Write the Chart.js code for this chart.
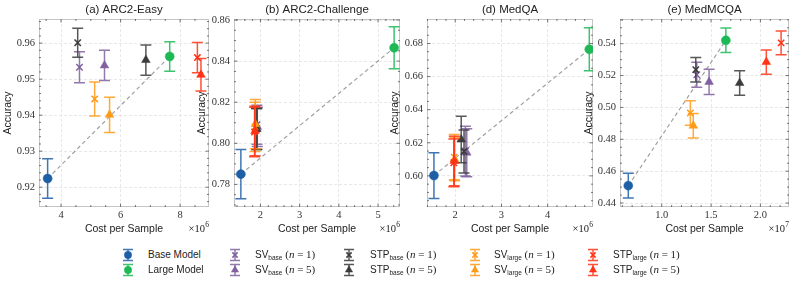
<!DOCTYPE html>
<html>
<head>
<meta charset="utf-8">
<script src="https://cdn.jsdelivr.net/npm/chart.js@4.4.1/dist/chart.umd.min.js"></script>
<style>
  body { margin: 0; background: #fff; width: 793px; height: 286px; overflow: hidden; position: relative; font-family: 'Liberation Sans', Arial, sans-serif; }
  canvas.panel { position: absolute; top: 0; }
  .leg { position: absolute; font-size: 10px; color: #222; white-space: nowrap; line-height: 12px; transform: translateY(-50%); }
  .leg sub { font-size: 6.5px; vertical-align: baseline; position: relative; top: 1.5px; }
  .leg .m { font-family: 'Liberation Serif', serif; font-size: 11px; }
  .legm { position: absolute; }
</style>
</head>
<body>
<script>
// panels
const panelTitles = ['(a) ARC2-Easy', '(b) ARC2-Challenge', '(d) MedQA', '(e) MedMCQA'];
const costExponent = ['6', '6', '6', '7'];

// series order: Base, Large, SV_base n=1, SV_base n=5, STP_base n=1, STP_base n=5,
//               SV_large n=1, SV_large n=5, STP_large n=1, STP_large n=5
const seriesNames = ['Base Model', 'Large Model', 'SV', 'SV', 'STP', 'STP', 'SV', 'SV', 'STP', 'STP'];
const seriesSub   = ['', '', 'base', 'base', 'base', 'base', 'large', 'large', 'large', 'large'];
const seriesN     = [null, null, 1, 5, 1, 5, 1, 5, 1, 5];

// cost per sample (x10^6, x10^7 for MedMCQA), accuracy, error half-width
const arcEasyCost = [3.55, 7.65, 4.62, 5.46, 4.56, 6.85, 5.13, 5.63, 8.58, 8.70];
const arcEasyAcc  = [0.9224, 0.9563, 0.9533, 0.9538, 0.9601, 0.9553, 0.9445, 0.9401, 0.9560, 0.9512];
const arcEasyErr  = [0.0055, 0.0041, 0.0043, 0.0042, 0.0040, 0.0042, 0.0047, 0.0049, 0.0042, 0.0045];

const arcChalCost = [1.50, 5.41, 1.91, 1.92, 1.90, 1.91, 1.86, 1.87, 1.85, 1.86];
const arcChalAcc  = [0.785, 0.8465, 0.809, 0.808, 0.807, 0.807, 0.808, 0.8093, 0.8055, 0.806];
const arcChalErr  = [0.012, 0.0102, 0.0095, 0.0095, 0.010, 0.010, 0.012, 0.012, 0.012, 0.012];

const medqaCost = [1.54, 4.90, 2.22, 2.25, 2.19, 2.13, 1.98, 1.99, 1.97, 1.98];
const medqaAcc  = [0.6002, 0.6765, 0.615, 0.614, 0.6147, 0.622, 0.6113, 0.610, 0.6079, 0.609];
const medqaErr  = [0.0138, 0.013, 0.015, 0.0145, 0.013, 0.014, 0.0137, 0.013, 0.0144, 0.015];

const medmcqaCost = [0.661, 1.65, 1.355, 1.48, 1.345, 1.79, 1.29, 1.32, 2.21, 2.06];
const medmcqaAcc  = [0.4509, 0.5421, 0.5205, 0.516, 0.5237, 0.5153, 0.4965, 0.4885, 0.5405, 0.5285];
const medmcqaErr  = [0.0078, 0.0077, 0.0078, 0.0079, 0.0077, 0.0077, 0.0077, 0.0077, 0.0075, 0.0076];

const panelCost = [arcEasyCost, arcChalCost, medqaCost, medmcqaCost];
const panelAcc  = [arcEasyAcc, arcChalAcc, medqaAcc, medmcqaAcc];
const panelErr  = [arcEasyErr, arcChalErr, medqaErr, medmcqaErr];

// axes
const xTicks = [[4, 6, 8], [2, 3, 4, 5], [2, 3, 4], [1.0, 1.5, 2.0]];
const yTicks = [[0.92, 0.93, 0.94, 0.95, 0.96], [0.78, 0.80, 0.82, 0.84, 0.86], [0.60, 0.62, 0.64, 0.66, 0.68], [0.44, 0.46, 0.48, 0.50, 0.52, 0.54]];
const xDecimals = [0, 0, 0, 1];
const xRanges = [[3.26, 8.97], [1.325, 5.56], [1.39, 4.98], [0.577, 2.29]];
const yRanges = [[0.9145, 0.9667], [0.769, 0.8605], [0.5812, 0.6948], [0.4375, 0.5555]];

// styles
const seriesColors  = ['#1f5fa6', '#1cb955', '#80609e', '#80609e', '#3b3b3b', '#3b3b3b', '#ff9a17', '#ff9a17', '#ff3214', '#ff3214'];
const seriesMarkers = ['circle', 'circle', 'crossRot', 'triangle', 'crossRot', 'triangle', 'crossRot', 'triangle', 'crossRot', 'triangle'];
const markerRadius  = { circle: 4.5, crossRot: 4.5, triangle: 5 };

const panelLeft = [0, 195, 388, 582];
const axisWidth = [39, 39, 39, 38];
const plotRight = [209, 400, 593, 789];
const yTitleX   = [8, 201.7, 395, 589];
const CANVAS_H = 240;

Chart.defaults.font.family = "'Liberation Sans', Arial, sans-serif";
Chart.defaults.color = '#222';

function alpha(hex, a) {
  const n = parseInt(hex.slice(1), 16);
  return `rgba(${n >> 16},${(n >> 8) & 255},${n & 255},${a})`;
}

function minorDivs(step) {
  const m = step / Math.pow(10, Math.floor(Math.log10(step) + 1e-9));
  return (Math.abs(m - 1) < 1e-6 || Math.abs(m - 5) < 1e-6) ? 5 : 4;
}

const errorBars = {
  id: 'errorBars',
  beforeDatasetDraw(chart, args) {
    const ds = chart.data.datasets[args.index];
    if (!ds.errors) return;
    const { ctx, chartArea: a } = chart;
    const xs = chart.scales.x, ys = chart.scales.y;
    ctx.save();
    ctx.beginPath(); ctx.rect(a.left, a.top, a.right - a.left, a.bottom - a.top); ctx.clip();
    ctx.strokeStyle = alpha(ds.baseColor, 0.85);
    ctx.lineWidth = 1.5;
    ds.data.forEach((p, k) => {
      const x = xs.getPixelForValue(p.x);
      const y1 = ys.getPixelForValue(p.y - ds.errors[k]);
      const y2 = ys.getPixelForValue(p.y + ds.errors[k]);
      ctx.beginPath();
      ctx.moveTo(x, y1); ctx.lineTo(x, y2);
      ctx.moveTo(x - 5.5, y1); ctx.lineTo(x + 5.5, y1);
      ctx.moveTo(x - 5.5, y2); ctx.lineTo(x + 5.5, y2);
      ctx.stroke();
    });
    ctx.restore();
  }
};

const frame = {
  id: 'frame',
  beforeDatasetsDraw(chart) {
    const { ctx, chartArea: a } = chart;
    const xs = chart.scales.x, ys = chart.scales.y;
    ctx.save();
    ctx.strokeStyle = '#c4c4c4'; ctx.lineWidth = 1;
    ctx.strokeRect(a.left + 0.5, a.top + 0.5, a.right - a.left - 1, a.bottom - a.top - 1);
    ctx.strokeStyle = '#555'; ctx.lineWidth = 0.8;
    const tickSet = (scale, maj) => {
      const step = maj[1] - maj[0];
      const ms = step / minorDivs(step);
      const out = [];
      for (let v = Math.ceil(scale.min / ms - 1e-9) * ms; v <= scale.max + 1e-12; v += ms) {
        const isMaj = maj.some(t => Math.abs(t - v) < ms * 0.01);
        out.push([scale.getPixelForValue(v), isMaj ? 3.5 : 2]);
      }
      return out;
    };
    ctx.beginPath();
    tickSet(xs, xs.ticks.map(t => t.value)).forEach(([px, len]) => {
      ctx.moveTo(px, a.bottom); ctx.lineTo(px, a.bottom - len);
      ctx.moveTo(px, a.top); ctx.lineTo(px, a.top + len);
    });
    tickSet(ys, ys.ticks.map(t => t.value)).forEach(([py, len]) => {
      ctx.moveTo(a.left, py); ctx.lineTo(a.left + len, py);
      ctx.moveTo(a.right, py); ctx.lineTo(a.right - len, py);
    });
    ctx.stroke();
    ctx.restore();
  },
  afterDraw(chart, args, opts) {
    const { ctx, chartArea: a } = chart;
    ctx.save();
    ctx.fillStyle = '#222';
    ctx.textBaseline = 'middle';
    ctx.textAlign = 'center';
    ctx.font = "11.5px 'Liberation Sans'";
    ctx.fillText(opts.title, (a.left + a.right) / 2, 10);
    ctx.textAlign = 'right';
    ctx.font = "7.5px 'Liberation Serif'";
    ctx.fillText(opts.exp, a.right, 225.5);
    const w = ctx.measureText(opts.exp).width;
    ctx.font = "10.5px 'Liberation Serif'";
    ctx.fillText('\u00d710', a.right - w - 0.3, 229);
    ctx.restore();
  }
};

panelTitles.forEach((title, i) => {
  const cv = document.createElement('canvas');
  const w = plotRight[i] - panelLeft[i] + 6;
  cv.className = 'panel';
  cv.width = w; cv.height = CANVAS_H;
  cv.style.left = panelLeft[i] + 'px';
  cv.style.width = w + 'px'; cv.style.height = CANVAS_H + 'px';
  document.body.appendChild(cv);

  const cost = panelCost[i], acc = panelAcc[i], err = panelErr[i];
  const datasets = [{
    type: 'line',
    data: [{ x: cost[0], y: acc[0] }, { x: cost[1], y: acc[1] }],
    borderColor: '#a0a0a0', borderWidth: 1.2, borderDash: [4, 3],
    pointRadius: 0, fill: false, order: 100
  }];
  seriesNames.forEach((name, k) => {
    const st = seriesMarkers[k];
    datasets.push({
      type: 'scatter',
      data: [{ x: cost[k], y: acc[k] }],
      errors: [err[k]],
      baseColor: seriesColors[k],
      pointStyle: st,
      pointRadius: markerRadius[st],
      pointBackgroundColor: seriesColors[k],
      pointBorderColor: seriesColors[k],
      pointBorderWidth: st === 'crossRot' ? 1.5 : 0.5,
      order: 20 - k
    });
  });

  new Chart(cv, {
    data: { datasets },
    plugins: [errorBars, frame],
    options: {
      responsive: false, animation: false,
      layout: { padding: { top: 19, right: 6, left: 0, bottom: 0 } },
      plugins: { legend: { display: false }, tooltip: { enabled: false }, frame: { title, exp: costExponent[i] } },
      scales: {
        x: {
          type: 'linear', min: xRanges[i][0], max: xRanges[i][1],
          afterBuildTicks: s => { s.ticks = xTicks[i].map(v => ({ value: v })); },
          afterFit: s => { s.height = CANVAS_H - 207; },
          grid: { color: '#e2e2e2', lineWidth: 0.8, drawTicks: false },
          border: { display: false, dash: [3, 2] },
          ticks: { padding: 2, maxRotation: 0, autoSkip: false, color: '#333',
                   font: { family: "'Liberation Serif'", size: 10.5 },
                   callback: v => Number(v).toFixed(xDecimals[i]) },
          title: { display: true, text: 'Cost per Sample', color: '#222', font: { size: 10.5 },
                   padding: { top: 0, bottom: 4.7 } }
        },
        y: {
          type: 'linear', min: yRanges[i][0], max: yRanges[i][1],
          afterBuildTicks: s => { s.ticks = yTicks[i].map(v => ({ value: v })); },
          afterFit: s => { s.width = axisWidth[i]; },
          grid: { color: '#e2e2e2', lineWidth: 0.8, drawTicks: false },
          border: { display: false, dash: [3, 2] },
          ticks: { padding: 4, color: '#333',
                   font: { family: "'Liberation Serif'", size: 10.5 },
                   callback: v => Number(v).toFixed(2) },
          title: { display: true, text: 'Accuracy', color: '#222', font: { size: 10.5 },
                   padding: { top: Math.max(0, yTitleX[i] - panelLeft[i] - 6.3), bottom: 0 } }
        }
      }
    }
  });
});

// legend
const legMarkerX = [128, 235, 349, 475, 593];
const legTextX   = [148, 255, 370, 494, 613];
const legRowY    = [255, 270];
seriesNames.forEach((name, k) => {
  const col = Math.floor(k / 2), row = k % 2;
  const mc = document.createElement('canvas');
  mc.className = 'legm';
  mc.width = 16; mc.height = 16;
  mc.style.left = (legMarkerX[col] - 8) + 'px';
  mc.style.top = (legRowY[row] - 8) + 'px';
  document.body.appendChild(mc);
  const c = mc.getContext('2d');
  c.strokeStyle = alpha(seriesColors[k], 0.85); c.lineWidth = 1.5;
  c.beginPath();
  c.moveTo(8, 2.5); c.lineTo(8, 13.5);
  c.moveTo(3, 2.5); c.lineTo(13, 2.5);
  c.moveTo(3, 13.5); c.lineTo(13, 13.5);
  c.stroke();
  c.fillStyle = seriesColors[k]; c.strokeStyle = seriesColors[k];
  const st = seriesMarkers[k];
  c.lineWidth = st === 'crossRot' ? 1.5 : 0.5;
  Chart.helpers.drawPoint(c, { pointStyle: st, radius: markerRadius[st] - 0.8, rotation: 0, borderWidth: c.lineWidth }, 8, 8);

  const t = document.createElement('div');
  t.className = 'leg';
  t.style.left = legTextX[col] + 'px';
  t.style.top = legRowY[row] + 'px';
  t.innerHTML = seriesN[k] === null ? name
    : `${name}<sub>${seriesSub[k]}</sub> <span class="m">(<i>n</i> = ${seriesN[k]})</span>`;
  document.body.appendChild(t);
});
</script>
</body>
</html>
